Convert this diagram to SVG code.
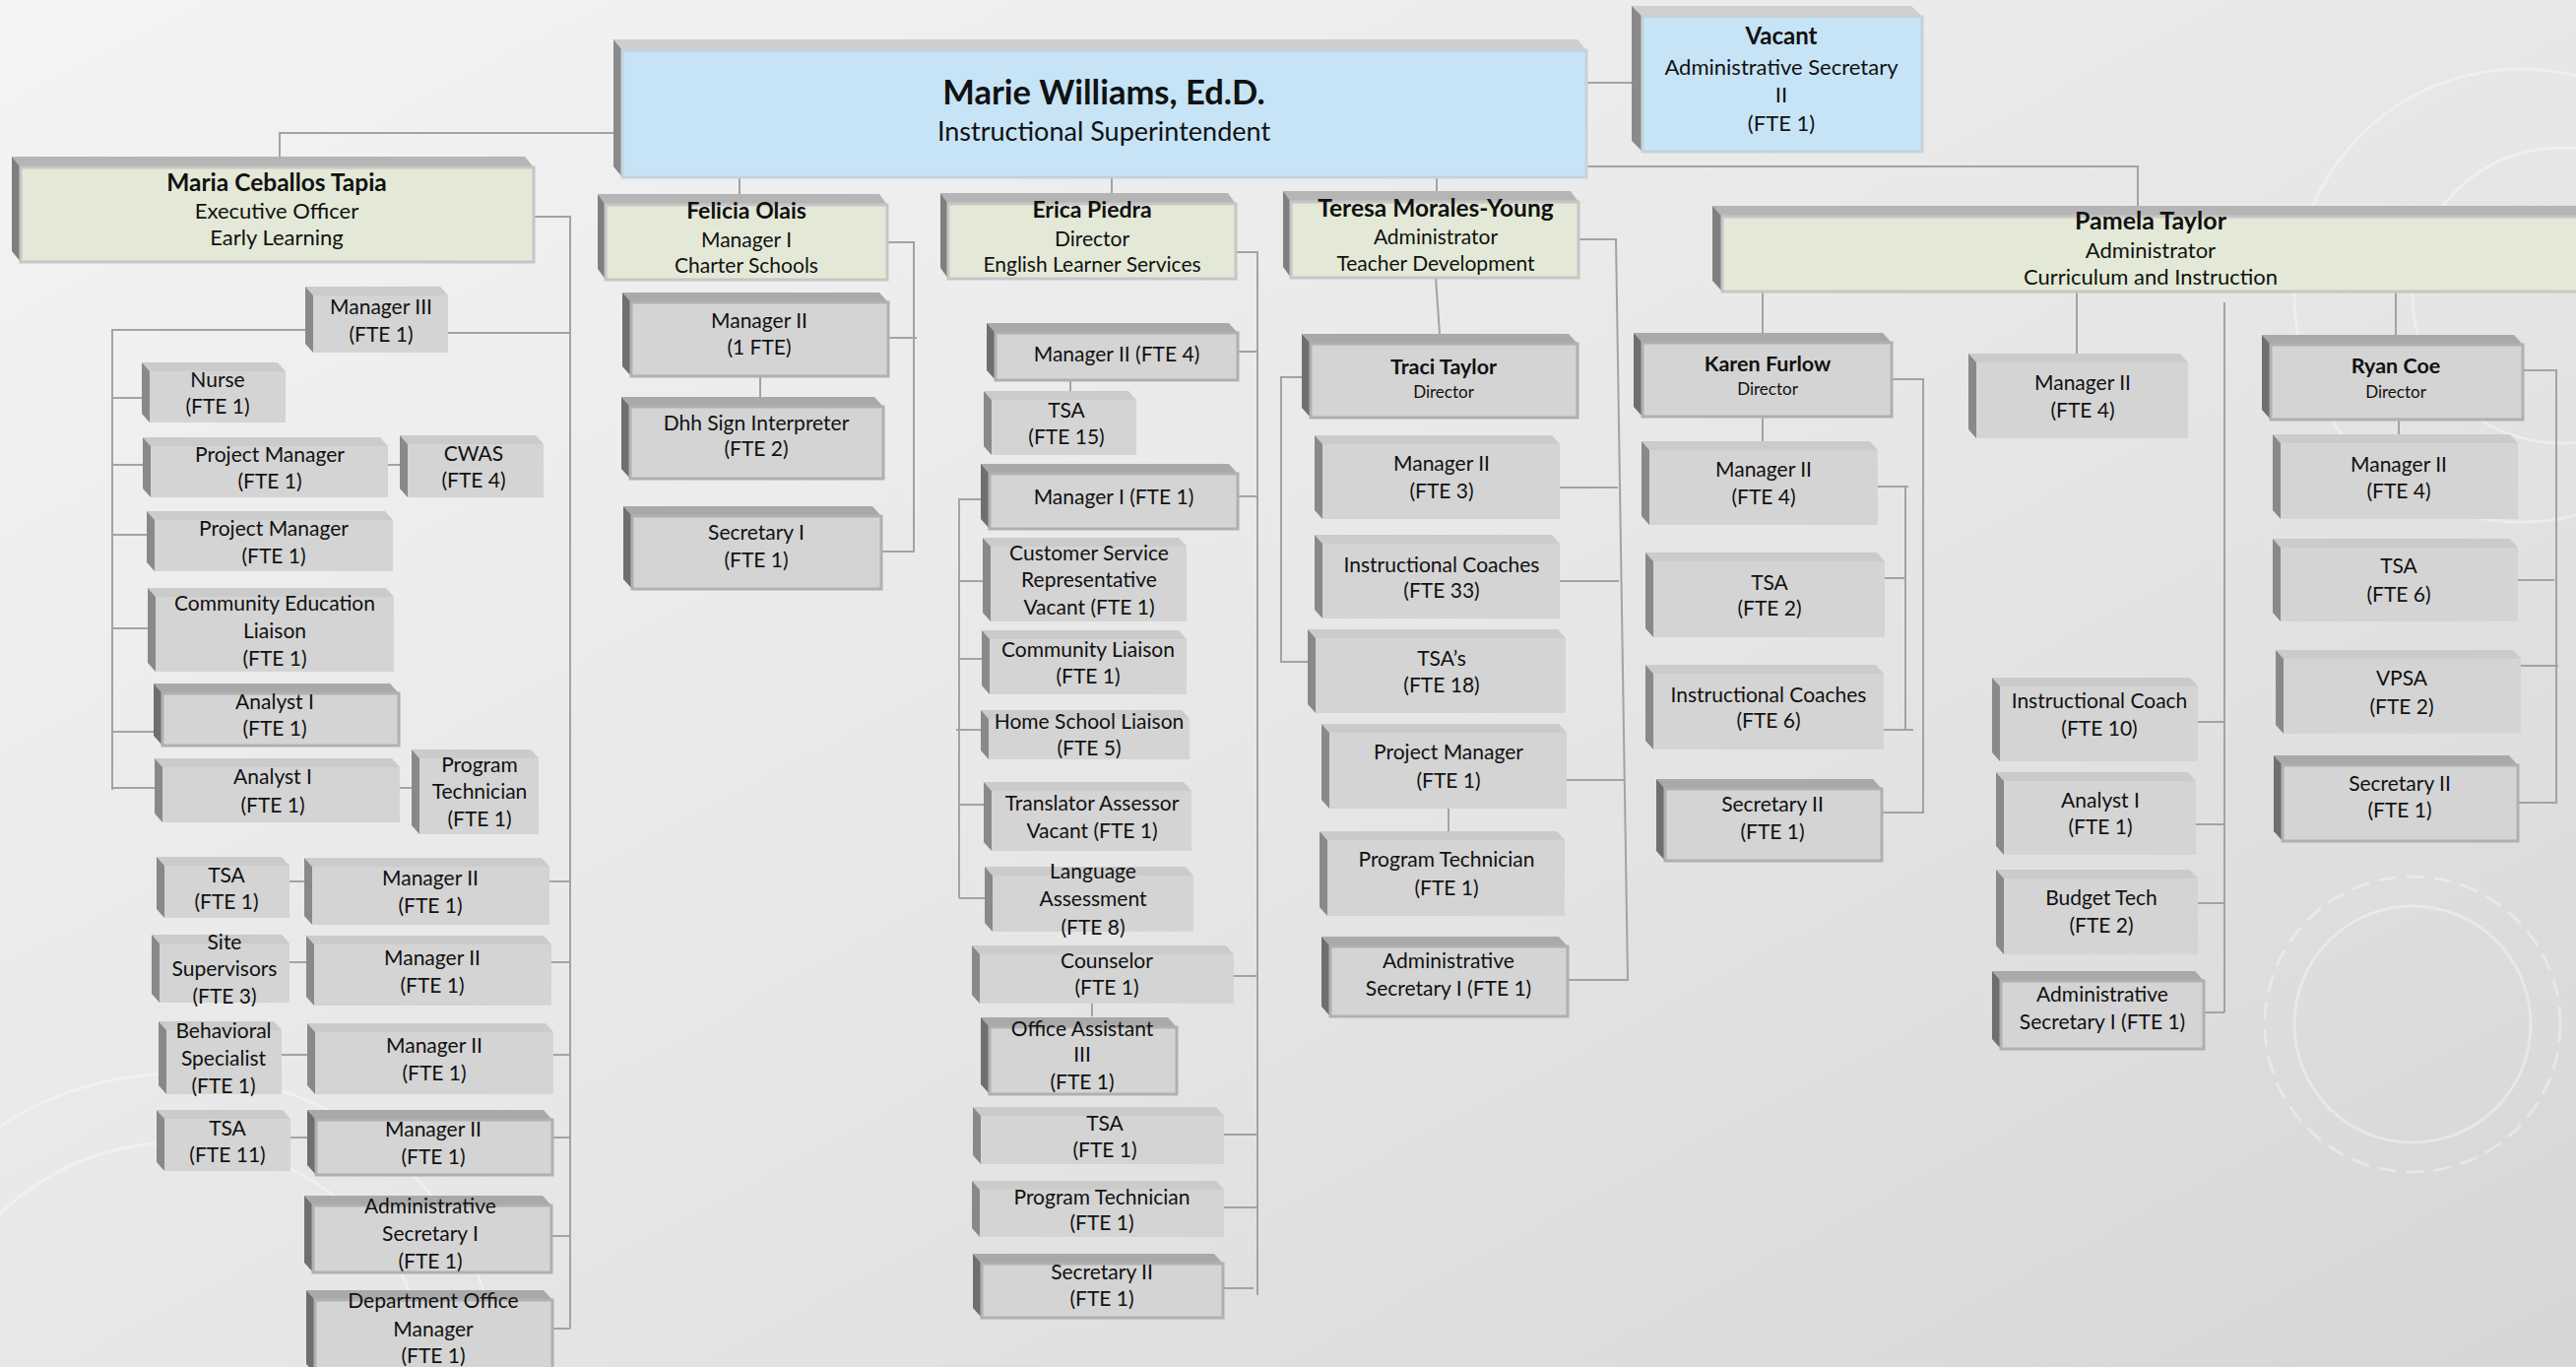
<svg xmlns="http://www.w3.org/2000/svg" width="2616" height="1388" viewBox="0 0 2616 1388">
<defs>
<linearGradient id="bg" x1="0" y1="0" x2="1" y2="1">
<stop offset="0" stop-color="#f4f4f4"/>
<stop offset="0.55" stop-color="#e6e6e6"/>
<stop offset="1" stop-color="#d6d6d6"/>
</linearGradient>
<style>
.t{fill:#cbcbcb}.s{fill:#898989}.f{fill:#d4d4d4}
.dt{fill:#a9a9a9}.ds{fill:#6f6f6f}.df{fill:#d4d4d4;stroke:#b0b0b0;stroke-width:3}
.gt{fill:#b5b5b5}.gs{fill:#7f7f7f}.gf{fill:#e3e9d6;stroke:#c6c6c6;stroke-width:3}
.bt{fill:#cfcfcf}.bs{fill:#8a8a8a}.bf{fill:#c6e4f6;stroke:#c6d2da;stroke-width:3}
text{font-family:Lato,"Liberation Sans",sans-serif;fill:#111111;text-anchor:middle}
.n{font-size:21px}
.b{font-size:23px;font-weight:bold}
.d{font-size:17px}
.c{fill:none;stroke:#a3a3a3;stroke-width:2}
.deco{fill:none;stroke:#ffffff;stroke-opacity:0.35;stroke-width:3}
</style>
</defs>
<rect width="2616" height="1388" fill="url(#bg)"/>
<g id="decor">
<circle class="deco" cx="2560" cy="300" r="230"/>
<circle class="deco" cx="2600" cy="300" r="150"/>
<circle class="deco" cx="2450" cy="1040" r="150" stroke-dasharray="18 10"/>
<circle class="deco" cx="2450" cy="1040" r="120"/>
<circle class="deco" cx="180" cy="1420" r="330"/>
<circle class="deco" cx="180" cy="1420" r="260"/>
</g>
<g id="connectors">
<path class="c" d="M623,135 H284 V159"/>
<path class="c" d="M1611,84 H1657"/>
<path class="c" d="M1611,169 H2171 V209"/>
<path class="c" d="M751,180 V197"/>
<path class="c" d="M1129,180 V196"/>
<path class="c" d="M1459,180 V194"/>
<path class="c" d="M542,220 H579 V1349"/>
<path class="c" d="M455,338 H579 M558,895 H579 M560,977 H579 M562,1071 H579 M561,1155 H579 M560,1255 H579 M561,1349 H579"/>
<path class="c" d="M310,335 H114 V802 M114,404 H144 M114,472 H145 M114,543 H149 M114,638 H150 M114,743 H156 M114,800 H157"/>
<path class="c" d="M394,472 H406 M406,800 H418"/>
<path class="c" d="M294,895 H309 M294,977 H311 M286,1071 H312 M295,1155 H312"/>
<path class="c" d="M901,246 H928 V560 H895 M902,343 H931 M772,382 V403"/>
<path class="c" d="M1255,256 H1277 V1315 M1257,357 H1277 M1257,504 H1277 M1253,991 H1277 M1243,1152 H1277 M1243,1226 H1277 M1242,1308 H1273"/>
<path class="c" d="M1087,386 V397"/>
<path class="c" d="M996,507 H974 V912 M974,590 H998 M974,669 H997 M971,741 H996 M974,817 H999 M974,912 H1000"/>
<path class="c" d="M1109,1019 V1032"/>
<path class="c" d="M1603,243 H1641 L1653,995 H1592 M1584,495 H1643 M1584,590 H1644 M1591,792 H1650"/>
<path class="c" d="M1458,282 L1462,339"/>
<path class="c" d="M1322,383 H1301 V672 H1328 M1471,821 V844"/>
<path class="c" d="M1790,296 V338 M2109,296 V359 M2433,296 V340"/>
<path class="c" d="M2259,307 V1028 M2232,733 H2259 M2230,837 H2259 M2232,917 H2259 M2238,1028 H2259"/>
<path class="c" d="M1921,385 H1953 V826 M1911,825 H1953 M1790,423 V448"/>
<path class="c" d="M1904,494 H1938 M1935,494 V742 M1914,587 H1935 M1905,741 H1943"/>
<path class="c" d="M2562,376 H2596 V815 H2557 M2557,589 H2594 M2560,676 H2598 M2436,426 V441"/>
</g>

<g id="marie"><path class="bt" d="M623,40 H1602 L1611,51 H632Z"/><path class="bs" d="M623,40 L632,51 V180 L623,169Z"/><rect class="bf" x="632" y="51" width="979" height="129"/>
<text x="1121" y="106" style="font-size:34.5px;font-weight:bold">Marie Williams, Ed.D.</text><text x="1121" y="143" style="font-size:27px">Instructional Superintendent</text></g>

<g id="vacant"><path class="bt" d="M1657,6 H1941 L1952,17 H1668Z"/><path class="bs" d="M1657,6 L1668,17 V154 L1657,143Z"/><rect class="bf" x="1668" y="17" width="284" height="137"/>
<text x="1809" y="45" style="font-size:24px;font-weight:bold">Vacant</text><text x="1809" y="76" style="font-size:22px">Administrative Secretary</text><text x="1809" y="104" style="font-size:22px">II</text><text x="1809" y="133" style="font-size:22px">(FTE 1)</text></g>

<g id="maria"><path class="gt" d="M12,159 H533 L542,170 H21Z"/><path class="gs" d="M12,159 L21,170 V266 L12,255Z"/><rect class="gf" x="21" y="170" width="521" height="96"/>
<text x="281" y="194" style="font-size:24.5px;font-weight:bold">Maria Ceballos Tapia</text><text x="281" y="222" style="font-size:22px">Executive Officer</text><text x="281" y="249" style="font-size:22px">Early Learning</text></g>

<g id="felicia"><path class="gt" d="M607,197 H893 L901,208 H615Z"/><path class="gs" d="M607,197 L615,208 V284 L607,273Z"/><rect class="gf" x="615" y="208" width="286" height="76"/>
<text class="b" x="758" y="222">Felicia Olais</text><text class="n" x="758" y="251">Manager I</text><text class="n" x="758" y="277">Charter Schools</text></g>

<g id="erica"><path class="gt" d="M955,196 H1247 L1255,207 H963Z"/><path class="gs" d="M955,196 L963,207 V283 L955,272Z"/><rect class="gf" x="963" y="207" width="292" height="76"/>
<text class="b" x="1109" y="221">Erica Piedra</text><text class="n" x="1109" y="250">Director</text><text class="n" x="1109" y="276">English Learner Services</text></g>

<g id="teresa"><path class="gt" d="M1303,194 H1595 L1603,205 H1311Z"/><path class="gs" d="M1303,194 L1311,205 V282 L1303,271Z"/><rect class="gf" x="1311" y="205" width="292" height="77"/>
<text x="1458" y="220" style="font-size:24.5px;font-weight:bold">Teresa Morales-Young</text><text class="n" x="1458" y="248">Administrator</text><text class="n" x="1458" y="275">Teacher Development</text></g>

<g id="pamela"><path class="gt" d="M1739,209 H2630 L2640,220 H1749Z"/><path class="gs" d="M1739,209 L1749,220 V296 L1739,285Z"/><rect class="gf" x="1749" y="220" width="891" height="76"/>
<text x="2184" y="233" style="font-size:25px;font-weight:bold">Pamela Taylor</text><text x="2184" y="262" style="font-size:22px">Administrator</text><text x="2184" y="289" style="font-size:22px">Curriculum and Instruction</text></g>

<g id="el-manager3"><path class="t" d="M310,291 H447 L455,300 H318Z"/><path class="s" d="M310,291 L318,300 V358 L310,349Z"/><rect class="f" x="318" y="300" width="137" height="58"/>
<text class="n" x="387" y="319">Manager III</text><text class="n" x="387" y="347">(FTE 1)</text></g>
<g id="el-nurse"><path class="t" d="M144,368 H282 L290,377 H152Z"/><path class="s" d="M144,368 L152,377 V429 L144,420Z"/><rect class="f" x="152" y="377" width="138" height="52"/>
<text class="n" x="221" y="393">Nurse</text><text class="n" x="221" y="420">(FTE 1)</text></g>
<g id="el-pm1"><path class="t" d="M145,444 H386 L394,453 H153Z"/><path class="s" d="M145,444 L153,453 V505 L145,496Z"/><rect class="f" x="153" y="453" width="241" height="52"/>
<text class="n" x="274" y="469">Project Manager</text><text class="n" x="274" y="496">(FTE 1)</text></g>
<g id="el-cwas"><path class="t" d="M406,442 H544 L552,451 H414Z"/><path class="s" d="M406,442 L414,451 V505 L406,496Z"/><rect class="f" x="414" y="451" width="138" height="54"/>
<text class="n" x="481" y="468">CWAS</text><text class="n" x="481" y="495">(FTE 4)</text></g>
<g id="el-pm2"><path class="t" d="M149,519 H391 L399,528 H157Z"/><path class="s" d="M149,519 L157,528 V580 L149,571Z"/><rect class="f" x="157" y="528" width="242" height="52"/>
<text class="n" x="278" y="544">Project Manager</text><text class="n" x="278" y="572">(FTE 1)</text></g>
<g id="el-cel"><path class="t" d="M150,597 H392 L400,606 H158Z"/><path class="s" d="M150,597 L158,606 V682 L150,673Z"/><rect class="f" x="158" y="606" width="242" height="76"/>
<text class="n" x="279" y="620">Community Education</text><text class="n" x="279" y="648">Liaison</text><text class="n" x="279" y="676">(FTE 1)</text></g>
<g id="el-analyst1"><path class="dt" d="M156,694 H396 L405,704 H165Z"/><path class="ds" d="M156,694 L165,704 V757 L156,747Z"/><rect class="df" x="165" y="704" width="240" height="53"/>
<text class="n" x="279" y="720">Analyst I</text><text class="n" x="279" y="747">(FTE 1)</text></g>
<g id="el-analyst2"><path class="t" d="M157,770 H398 L406,779 H165Z"/><path class="s" d="M157,770 L165,779 V835 L157,826Z"/><rect class="f" x="165" y="779" width="241" height="56"/>
<text class="n" x="277" y="796">Analyst I</text><text class="n" x="277" y="825">(FTE 1)</text></g>
<g id="el-progtech"><path class="t" d="M418,761 H539 L547,770 H426Z"/><path class="s" d="M418,761 L426,770 V847 L418,838Z"/><rect class="f" x="426" y="770" width="121" height="77"/>
<text class="n" x="487" y="784">Program</text><text class="n" x="487" y="811">Technician</text><text class="n" x="487" y="839">(FTE 1)</text></g>
<g id="el-tsa1"><path class="t" d="M159,870 H286 L294,879 H167Z"/><path class="s" d="M159,870 L167,879 V932 L159,923Z"/><rect class="f" x="167" y="879" width="127" height="53"/>
<text class="n" x="230" y="896">TSA</text><text class="n" x="230" y="923">(FTE 1)</text></g>
<g id="el-mgr2a"><path class="t" d="M309,871 H550 L558,880 H317Z"/><path class="s" d="M309,871 L317,880 V939 L309,930Z"/><rect class="f" x="317" y="880" width="241" height="59"/>
<text class="n" x="437" y="899">Manager II</text><text class="n" x="437" y="927">(FTE 1)</text></g>
<g id="el-site"><path class="t" d="M154,949 H286 L294,958 H162Z"/><path class="s" d="M154,949 L162,958 V1018 L154,1009Z"/><rect class="f" x="162" y="958" width="132" height="60"/>
<text class="n" x="228" y="964">Site</text><text class="n" x="228" y="991">Supervisors</text><text class="n" x="228" y="1019">(FTE 3)</text></g>
<g id="el-mgr2b"><path class="t" d="M311,950 H552 L560,959 H319Z"/><path class="s" d="M311,950 L319,959 V1021 L311,1012Z"/><rect class="f" x="319" y="959" width="241" height="62"/>
<text class="n" x="439" y="980">Manager II</text><text class="n" x="439" y="1008">(FTE 1)</text></g>
<g id="el-behav"><path class="t" d="M161,1037 H278 L286,1046 H169Z"/><path class="s" d="M161,1037 L169,1046 V1111 L161,1102Z"/><rect class="f" x="169" y="1046" width="117" height="65"/>
<text class="n" x="227" y="1054">Behavioral</text><text class="n" x="227" y="1082">Specialist</text><text class="n" x="227" y="1110">(FTE 1)</text></g>
<g id="el-mgr2c"><path class="t" d="M312,1039 H554 L562,1048 H320Z"/><path class="s" d="M312,1039 L320,1048 V1111 L312,1102Z"/><rect class="f" x="320" y="1048" width="242" height="63"/>
<text class="n" x="441" y="1069">Manager II</text><text class="n" x="441" y="1097">(FTE 1)</text></g>
<g id="el-tsa11"><path class="t" d="M159,1127 H287 L295,1136 H167Z"/><path class="s" d="M159,1127 L167,1136 V1189 L159,1180Z"/><rect class="f" x="167" y="1136" width="128" height="53"/>
<text class="n" x="231" y="1153">TSA</text><text class="n" x="231" y="1180">(FTE 11)</text></g>
<g id="el-mgr2d"><path class="dt" d="M312,1127 H552 L561,1137 H321Z"/><path class="ds" d="M312,1127 L321,1137 V1193 L312,1183Z"/><rect class="df" x="321" y="1137" width="240" height="56"/>
<text class="n" x="440" y="1154">Manager II</text><text class="n" x="440" y="1182">(FTE 1)</text></g>
<g id="el-adminsec"><path class="dt" d="M309,1214 H551 L560,1224 H318Z"/><path class="ds" d="M309,1214 L318,1224 V1292 L309,1282Z"/><rect class="df" x="318" y="1224" width="242" height="68"/>
<text class="n" x="437" y="1232">Administrative</text><text class="n" x="437" y="1260">Secretary I</text><text class="n" x="437" y="1288">(FTE 1)</text></g>
<g id="el-deptoffice"><path class="dt" d="M311,1310 H552 L561,1320 H320Z"/><path class="ds" d="M311,1310 L320,1320 V1395 L311,1385Z"/><rect class="df" x="320" y="1320" width="241" height="75"/>
<text class="n" x="440" y="1328">Department Office</text><text class="n" x="440" y="1357">Manager</text><text class="n" x="440" y="1384">(FTE 1)</text></g>

<g id="cs-mgr2"><path class="dt" d="M632,297 H893 L902,307 H641Z"/><path class="ds" d="M632,297 L641,307 V382 L632,372Z"/><rect class="df" x="641" y="307" width="261" height="75"/>
<text class="n" x="771" y="333">Manager II</text><text class="n" x="771" y="360">(1 FTE)</text></g>
<g id="cs-dhh"><path class="dt" d="M631,403 H888 L897,413 H640Z"/><path class="ds" d="M631,403 L640,413 V486 L631,476Z"/><rect class="df" x="640" y="413" width="257" height="73"/>
<text class="n" x="768" y="437">Dhh Sign Interpreter</text><text class="n" x="768" y="463">(FTE 2)</text></g>
<g id="cs-sec1"><path class="dt" d="M633,514 H886 L895,524 H642Z"/><path class="ds" d="M633,514 L642,524 V598 L633,588Z"/><rect class="df" x="642" y="524" width="253" height="74"/>
<text class="n" x="768" y="548">Secretary I</text><text class="n" x="768" y="576">(FTE 1)</text></g>

<g id="els-mgr2"><path class="dt" d="M1002,328 H1248 L1257,338 H1011Z"/><path class="ds" d="M1002,328 L1011,338 V386 L1002,376Z"/><rect class="df" x="1011" y="338" width="246" height="48"/>
<text class="n" x="1134" y="367">Manager II (FTE 4)</text></g>
<g id="els-tsa15"><path class="t" d="M999,397 H1146 L1154,406 H1007Z"/><path class="s" d="M999,397 L1007,406 V462 L999,453Z"/><rect class="f" x="1007" y="406" width="147" height="56"/>
<text class="n" x="1083" y="424">TSA</text><text class="n" x="1083" y="451">(FTE 15)</text></g>
<g id="els-mgr1"><path class="dt" d="M996,471 H1248 L1257,481 H1005Z"/><path class="ds" d="M996,471 L1005,481 V537 L996,527Z"/><rect class="df" x="1005" y="481" width="252" height="56"/>
<text class="n" x="1131" y="512">Manager I (FTE 1)</text></g>
<g id="els-csr"><path class="t" d="M998,546 H1197 L1205,555 H1006Z"/><path class="s" d="M998,546 L1006,555 V631 L998,622Z"/><rect class="f" x="1006" y="555" width="199" height="76"/>
<text class="n" x="1106" y="569">Customer Service</text><text class="n" x="1106" y="596">Representative</text><text class="n" x="1106" y="624">Vacant (FTE 1)</text></g>
<g id="els-cl"><path class="t" d="M997,640 H1197 L1205,649 H1005Z"/><path class="s" d="M997,640 L1005,649 V705 L997,696Z"/><rect class="f" x="1005" y="649" width="200" height="56"/>
<text class="n" x="1105" y="667">Community Liaison</text><text class="n" x="1105" y="694">(FTE 1)</text></g>
<g id="els-hsl"><path class="t" d="M996,721 H1200 L1208,730 H1004Z"/><path class="s" d="M996,721 L1004,730 V771 L996,762Z"/><rect class="f" x="1004" y="730" width="204" height="41"/>
<text class="n" x="1106" y="740">Home School Liaison</text><text class="n" x="1106" y="767">(FTE 5)</text></g>
<g id="els-ta"><path class="t" d="M999,794 H1202 L1210,803 H1007Z"/><path class="s" d="M999,794 L1007,803 V864 L999,855Z"/><rect class="f" x="1007" y="803" width="203" height="61"/>
<text class="n" x="1109" y="823">Translator Assessor</text><text class="n" x="1109" y="851">Vacant (FTE 1)</text></g>
<g id="els-la"><path class="t" d="M1000,880 H1204 L1212,889 H1008Z"/><path class="s" d="M1000,880 L1008,889 V946 L1000,937Z"/><rect class="f" x="1008" y="889" width="204" height="57"/>
<text class="n" x="1110" y="892">Language</text><text class="n" x="1110" y="920">Assessment</text><text class="n" x="1110" y="949">(FTE 8)</text></g>
<g id="els-counselor"><path class="t" d="M987,960 H1245 L1253,969 H995Z"/><path class="s" d="M987,960 L995,969 V1019 L987,1010Z"/><rect class="f" x="995" y="969" width="258" height="50"/>
<text class="n" x="1124" y="983">Counselor</text><text class="n" x="1124" y="1010">(FTE 1)</text></g>
<g id="els-oa3"><path class="dt" d="M996,1033 H1186 L1195,1043 H1005Z"/><path class="ds" d="M996,1033 L1005,1043 V1111 L996,1101Z"/><rect class="df" x="1005" y="1043" width="190" height="68"/>
<text class="n" x="1099" y="1052">Office Assistant</text><text class="n" x="1099" y="1078">III</text><text class="n" x="1099" y="1106">(FTE 1)</text></g>
<g id="els-tsa1"><path class="t" d="M988,1124 H1235 L1243,1133 H996Z"/><path class="s" d="M988,1124 L996,1133 V1182 L988,1173Z"/><rect class="f" x="996" y="1133" width="247" height="49"/>
<text class="n" x="1122" y="1148">TSA</text><text class="n" x="1122" y="1175">(FTE 1)</text></g>
<g id="els-pt"><path class="t" d="M987,1199 H1235 L1243,1208 H995Z"/><path class="s" d="M987,1199 L995,1208 V1256 L987,1247Z"/><rect class="f" x="995" y="1208" width="248" height="48"/>
<text class="n" x="1119" y="1223">Program Technician</text><text class="n" x="1119" y="1249">(FTE 1)</text></g>
<g id="els-sec2"><path class="dt" d="M988,1273 H1233 L1242,1283 H997Z"/><path class="ds" d="M988,1273 L997,1283 V1338 L988,1328Z"/><rect class="df" x="997" y="1283" width="245" height="55"/>
<text class="n" x="1119" y="1299">Secretary II</text><text class="n" x="1119" y="1326">(FTE 1)</text></g>

<g id="td-traci"><path class="dt" d="M1322,339 H1593 L1602,349 H1331Z"/><path class="ds" d="M1322,339 L1331,349 V424 L1322,414Z"/><rect class="df" x="1331" y="349" width="271" height="75"/>
<text x="1466" y="380" style="font-size:21.5px;font-weight:bold">Traci Taylor</text><text class="d" x="1466" y="404">Director</text></g>
<g id="td-mgr2"><path class="t" d="M1335,442 H1576 L1584,451 H1343Z"/><path class="s" d="M1335,442 L1343,451 V527 L1335,518Z"/><rect class="f" x="1343" y="451" width="241" height="76"/>
<text class="n" x="1464" y="478">Manager II</text><text class="n" x="1464" y="506">(FTE 3)</text></g>
<g id="td-ic"><path class="t" d="M1335,543 H1576 L1584,552 H1343Z"/><path class="s" d="M1335,543 L1343,552 V628 L1335,619Z"/><rect class="f" x="1343" y="552" width="241" height="76"/>
<text class="n" x="1464" y="581">Instructional Coaches</text><text class="n" x="1464" y="607">(FTE 33)</text></g>
<g id="td-tsa"><path class="t" d="M1328,639 H1582 L1590,648 H1336Z"/><path class="s" d="M1328,639 L1336,648 V724 L1328,715Z"/><rect class="f" x="1336" y="648" width="254" height="76"/>
<text class="n" x="1464" y="676">TSA’s</text><text class="n" x="1464" y="703">(FTE 18)</text></g>
<g id="td-pm"><path class="t" d="M1342,735 H1583 L1591,744 H1350Z"/><path class="s" d="M1342,735 L1350,744 V821 L1342,812Z"/><rect class="f" x="1350" y="744" width="241" height="77"/>
<text class="n" x="1471" y="771">Project Manager</text><text class="n" x="1471" y="800">(FTE 1)</text></g>
<g id="td-pt"><path class="t" d="M1340,844 H1581 L1589,853 H1348Z"/><path class="s" d="M1340,844 L1348,853 V930 L1340,921Z"/><rect class="f" x="1348" y="853" width="241" height="77"/>
<text class="n" x="1469" y="880">Program Technician</text><text class="n" x="1469" y="909">(FTE 1)</text></g>
<g id="td-adminsec"><path class="dt" d="M1342,951 H1583 L1592,961 H1351Z"/><path class="ds" d="M1342,951 L1351,961 V1032 L1342,1022Z"/><rect class="df" x="1351" y="961" width="241" height="71"/>
<text class="n" x="1471" y="983">Administrative</text><text class="n" x="1471" y="1011">Secretary I (FTE 1)</text></g>

<g id="ci-karen"><path class="dt" d="M1659,338 H1912 L1921,348 H1668Z"/><path class="ds" d="M1659,338 L1668,348 V423 L1659,413Z"/><rect class="df" x="1668" y="348" width="253" height="75"/>
<text x="1795" y="377" style="font-size:21.5px;font-weight:bold">Karen Furlow</text><text class="d" x="1795" y="401">Director</text></g>
<g id="ci-k-mgr2"><path class="t" d="M1667,448 H1899 L1907,457 H1675Z"/><path class="s" d="M1667,448 L1675,457 V533 L1667,524Z"/><rect class="f" x="1675" y="457" width="232" height="76"/>
<text class="n" x="1791" y="484">Manager II</text><text class="n" x="1791" y="512">(FTE 4)</text></g>
<g id="ci-k-tsa"><path class="t" d="M1671,561 H1906 L1914,570 H1679Z"/><path class="s" d="M1671,561 L1679,570 V647 L1671,638Z"/><rect class="f" x="1679" y="570" width="235" height="77"/>
<text class="n" x="1797" y="599">TSA</text><text class="n" x="1797" y="625">(FTE 2)</text></g>
<g id="ci-k-ic"><path class="t" d="M1671,675 H1905 L1913,684 H1679Z"/><path class="s" d="M1671,675 L1679,684 V761 L1671,752Z"/><rect class="f" x="1679" y="684" width="234" height="77"/>
<text class="n" x="1796" y="713">Instructional Coaches</text><text class="n" x="1796" y="739">(FTE 6)</text></g>
<g id="ci-k-sec2"><path class="dt" d="M1682,791 H1902 L1911,801 H1691Z"/><path class="ds" d="M1682,791 L1691,801 V874 L1682,864Z"/><rect class="df" x="1691" y="801" width="220" height="73"/>
<text class="n" x="1800" y="824">Secretary II</text><text class="n" x="1800" y="852">(FTE 1)</text></g>
<g id="ci-mgr2"><path class="t" d="M1999,359 H2214 L2222,368 H2007Z"/><path class="s" d="M1999,359 L2007,368 V445 L1999,436Z"/><rect class="f" x="2007" y="368" width="215" height="77"/>
<text class="n" x="2115" y="396">Manager II</text><text class="n" x="2115" y="424">(FTE 4)</text></g>
<g id="ci-ic"><path class="t" d="M2023,688 H2224 L2232,697 H2031Z"/><path class="s" d="M2023,688 L2031,697 V773 L2023,764Z"/><rect class="f" x="2031" y="697" width="201" height="76"/>
<text class="n" x="2132" y="719">Instructional Coach</text><text class="n" x="2132" y="747">(FTE 10)</text></g>
<g id="ci-analyst"><path class="t" d="M2027,784 H2222 L2230,793 H2035Z"/><path class="s" d="M2027,784 L2035,793 V868 L2027,859Z"/><rect class="f" x="2035" y="793" width="195" height="75"/>
<text class="n" x="2133" y="820">Analyst I</text><text class="n" x="2133" y="847">(FTE 1)</text></g>
<g id="ci-budget"><path class="t" d="M2027,883 H2224 L2232,892 H2035Z"/><path class="s" d="M2027,883 L2035,892 V969 L2027,960Z"/><rect class="f" x="2035" y="892" width="197" height="77"/>
<text class="n" x="2134" y="919">Budget Tech</text><text class="n" x="2134" y="947">(FTE 2)</text></g>
<g id="ci-adminsec"><path class="dt" d="M2023,986 H2229 L2238,996 H2032Z"/><path class="ds" d="M2023,986 L2032,996 V1065 L2023,1055Z"/><rect class="df" x="2032" y="996" width="206" height="69"/>
<text class="n" x="2135" y="1017">Administrative</text><text class="n" x="2135" y="1045">Secretary I (FTE 1)</text></g>
<g id="ci-ryan"><path class="dt" d="M2297,340 H2553 L2562,350 H2306Z"/><path class="ds" d="M2297,340 L2306,350 V426 L2297,416Z"/><rect class="df" x="2306" y="350" width="256" height="76"/>
<text x="2433" y="379" style="font-size:21.5px;font-weight:bold">Ryan Coe</text><text class="d" x="2433" y="404">Director</text></g>
<g id="ci-r-mgr2"><path class="t" d="M2308,441 H2549 L2557,450 H2316Z"/><path class="s" d="M2308,441 L2316,450 V527 L2308,518Z"/><rect class="f" x="2316" y="450" width="241" height="77"/>
<text class="n" x="2436" y="479">Manager II</text><text class="n" x="2436" y="506">(FTE 4)</text></g>
<g id="ci-r-tsa"><path class="t" d="M2308,547 H2549 L2557,556 H2316Z"/><path class="s" d="M2308,547 L2316,556 V631 L2308,622Z"/><rect class="f" x="2316" y="556" width="241" height="75"/>
<text class="n" x="2436" y="582">TSA</text><text class="n" x="2436" y="611">(FTE 6)</text></g>
<g id="ci-r-vpsa"><path class="t" d="M2311,660 H2552 L2560,669 H2319Z"/><path class="s" d="M2311,660 L2319,669 V745 L2311,736Z"/><rect class="f" x="2319" y="669" width="241" height="76"/>
<text class="n" x="2439" y="696">VPSA</text><text class="n" x="2439" y="725">(FTE 2)</text></g>
<g id="ci-r-sec2"><path class="dt" d="M2309,767 H2548 L2557,777 H2318Z"/><path class="ds" d="M2309,767 L2318,777 V854 L2309,844Z"/><rect class="df" x="2318" y="777" width="239" height="77"/>
<text class="n" x="2437" y="803">Secretary II</text><text class="n" x="2437" y="830">(FTE 1)</text></g>
</svg>
